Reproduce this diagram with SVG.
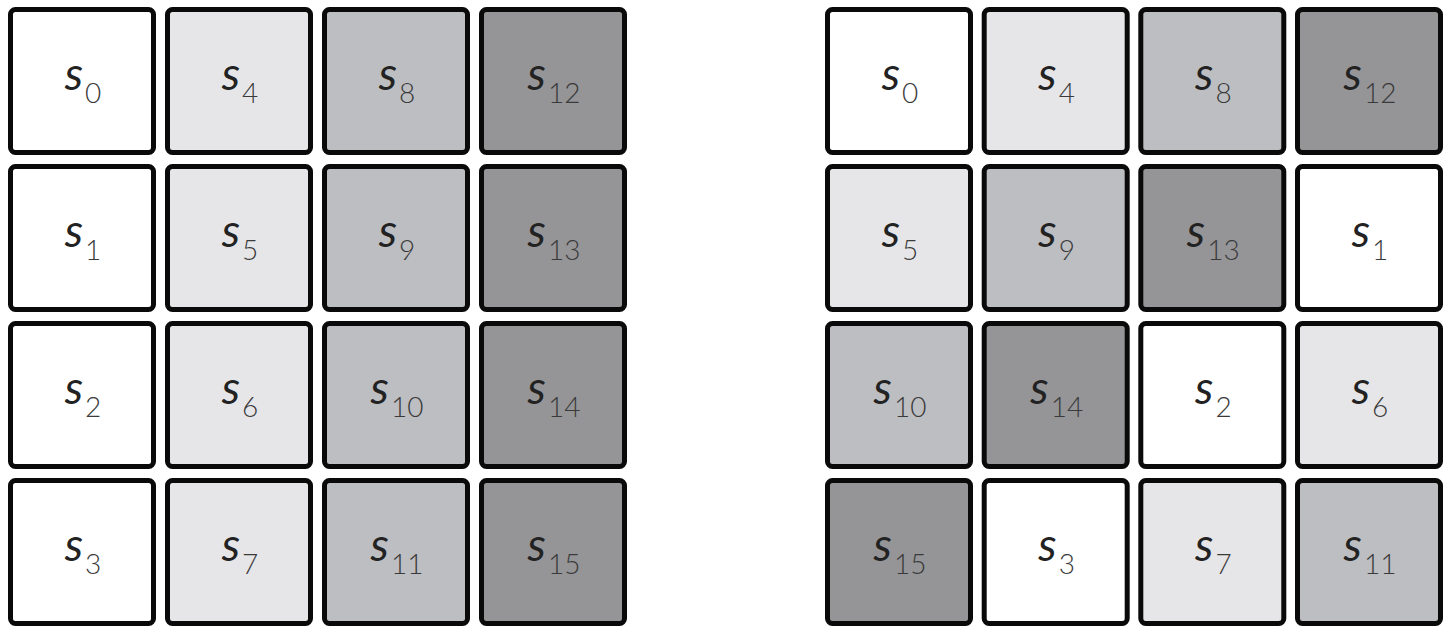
<svg xmlns="http://www.w3.org/2000/svg" width="1448" height="636" viewBox="0 0 1448 636">
<style>
.c{stroke:#0a0a0a;stroke-width:5}
.w{fill:#ffffff}.l{fill:#e6e6e8}.m{fill:#bdbec1}.d{fill:#959598}
text{font-family:Lato,"DejaVu Sans",sans-serif;text-anchor:middle}
.s{font-size:46px;fill:#222;font-weight:400;font-style:italic}
.n{font-size:28px;fill:#3a3a3a;font-weight:300}
</style>
<rect width="1448" height="636" fill="#fff"/>
<g id="left-grid">
<g id="L0"><rect class="c w" x="10.5" y="9.5" width="143" height="143" rx="5"/><text x="83" y="90"><tspan class="s">s</tspan><tspan class="n" dx="2" dy="13">0</tspan></text></g>
<g id="L1"><rect class="c w" x="10.5" y="166.5" width="143" height="143" rx="5"/><text x="83" y="247"><tspan class="s">s</tspan><tspan class="n" dx="2" dy="13">1</tspan></text></g>
<g id="L2"><rect class="c w" x="10.5" y="323.5" width="143" height="143" rx="5"/><text x="83" y="404"><tspan class="s">s</tspan><tspan class="n" dx="2" dy="13">2</tspan></text></g>
<g id="L3"><rect class="c w" x="10.5" y="480.5" width="143" height="143" rx="5"/><text x="83" y="561"><tspan class="s">s</tspan><tspan class="n" dx="2" dy="13">3</tspan></text></g>
<g id="L4"><rect class="c l" x="167.5" y="9.5" width="143" height="143" rx="5"/><text x="240" y="90"><tspan class="s">s</tspan><tspan class="n" dx="2" dy="13">4</tspan></text></g>
<g id="L5"><rect class="c l" x="167.5" y="166.5" width="143" height="143" rx="5"/><text x="240" y="247"><tspan class="s">s</tspan><tspan class="n" dx="2" dy="13">5</tspan></text></g>
<g id="L6"><rect class="c l" x="167.5" y="323.5" width="143" height="143" rx="5"/><text x="240" y="404"><tspan class="s">s</tspan><tspan class="n" dx="2" dy="13">6</tspan></text></g>
<g id="L7"><rect class="c l" x="167.5" y="480.5" width="143" height="143" rx="5"/><text x="240" y="561"><tspan class="s">s</tspan><tspan class="n" dx="2" dy="13">7</tspan></text></g>
<g id="L8"><rect class="c m" x="324.5" y="9.5" width="143" height="143" rx="5"/><text x="397" y="90"><tspan class="s">s</tspan><tspan class="n" dx="2" dy="13">8</tspan></text></g>
<g id="L9"><rect class="c m" x="324.5" y="166.5" width="143" height="143" rx="5"/><text x="397" y="247"><tspan class="s">s</tspan><tspan class="n" dx="2" dy="13">9</tspan></text></g>
<g id="L10"><rect class="c m" x="324.5" y="323.5" width="143" height="143" rx="5"/><text x="397" y="404"><tspan class="s">s</tspan><tspan class="n" dx="2" dy="13">10</tspan></text></g>
<g id="L11"><rect class="c m" x="324.5" y="480.5" width="143" height="143" rx="5"/><text x="397" y="561"><tspan class="s">s</tspan><tspan class="n" dx="2" dy="13">11</tspan></text></g>
<g id="L12"><rect class="c d" x="481.5" y="9.5" width="143" height="143" rx="5"/><text x="554" y="90"><tspan class="s">s</tspan><tspan class="n" dx="2" dy="13">12</tspan></text></g>
<g id="L13"><rect class="c d" x="481.5" y="166.5" width="143" height="143" rx="5"/><text x="554" y="247"><tspan class="s">s</tspan><tspan class="n" dx="2" dy="13">13</tspan></text></g>
<g id="L14"><rect class="c d" x="481.5" y="323.5" width="143" height="143" rx="5"/><text x="554" y="404"><tspan class="s">s</tspan><tspan class="n" dx="2" dy="13">14</tspan></text></g>
<g id="L15"><rect class="c d" x="481.5" y="480.5" width="143" height="143" rx="5"/><text x="554" y="561"><tspan class="s">s</tspan><tspan class="n" dx="2" dy="13">15</tspan></text></g>
</g>
<g id="right-grid">
<g id="R0"><rect class="c w" x="827.5" y="9.5" width="143" height="143" rx="5"/><text x="900" y="90"><tspan class="s">s</tspan><tspan class="n" dx="2" dy="13">0</tspan></text></g>
<g id="R4"><rect class="c l" x="984.2" y="9.5" width="143" height="143" rx="5"/><text x="1056.7" y="90"><tspan class="s">s</tspan><tspan class="n" dx="2" dy="13">4</tspan></text></g>
<g id="R8"><rect class="c m" x="1140.8" y="9.5" width="143" height="143" rx="5"/><text x="1213.3" y="90"><tspan class="s">s</tspan><tspan class="n" dx="2" dy="13">8</tspan></text></g>
<g id="R12"><rect class="c d" x="1297.5" y="9.5" width="143" height="143" rx="5"/><text x="1370" y="90"><tspan class="s">s</tspan><tspan class="n" dx="2" dy="13">12</tspan></text></g>
<g id="R5"><rect class="c l" x="827.5" y="166.5" width="143" height="143" rx="5"/><text x="900" y="247"><tspan class="s">s</tspan><tspan class="n" dx="2" dy="13">5</tspan></text></g>
<g id="R9"><rect class="c m" x="984.2" y="166.5" width="143" height="143" rx="5"/><text x="1056.7" y="247"><tspan class="s">s</tspan><tspan class="n" dx="2" dy="13">9</tspan></text></g>
<g id="R13"><rect class="c d" x="1140.8" y="166.5" width="143" height="143" rx="5"/><text x="1213.3" y="247"><tspan class="s">s</tspan><tspan class="n" dx="2" dy="13">13</tspan></text></g>
<g id="R1"><rect class="c w" x="1297.5" y="166.5" width="143" height="143" rx="5"/><text x="1370" y="247"><tspan class="s">s</tspan><tspan class="n" dx="2" dy="13">1</tspan></text></g>
<g id="R10"><rect class="c m" x="827.5" y="323.5" width="143" height="143" rx="5"/><text x="900" y="404"><tspan class="s">s</tspan><tspan class="n" dx="2" dy="13">10</tspan></text></g>
<g id="R14"><rect class="c d" x="984.2" y="323.5" width="143" height="143" rx="5"/><text x="1056.7" y="404"><tspan class="s">s</tspan><tspan class="n" dx="2" dy="13">14</tspan></text></g>
<g id="R2"><rect class="c w" x="1140.8" y="323.5" width="143" height="143" rx="5"/><text x="1213.3" y="404"><tspan class="s">s</tspan><tspan class="n" dx="2" dy="13">2</tspan></text></g>
<g id="R6"><rect class="c l" x="1297.5" y="323.5" width="143" height="143" rx="5"/><text x="1370" y="404"><tspan class="s">s</tspan><tspan class="n" dx="2" dy="13">6</tspan></text></g>
<g id="R15"><rect class="c d" x="827.5" y="480.5" width="143" height="143" rx="5"/><text x="900" y="561"><tspan class="s">s</tspan><tspan class="n" dx="2" dy="13">15</tspan></text></g>
<g id="R3"><rect class="c w" x="984.2" y="480.5" width="143" height="143" rx="5"/><text x="1056.7" y="561"><tspan class="s">s</tspan><tspan class="n" dx="2" dy="13">3</tspan></text></g>
<g id="R7"><rect class="c l" x="1140.8" y="480.5" width="143" height="143" rx="5"/><text x="1213.3" y="561"><tspan class="s">s</tspan><tspan class="n" dx="2" dy="13">7</tspan></text></g>
<g id="R11"><rect class="c m" x="1297.5" y="480.5" width="143" height="143" rx="5"/><text x="1370" y="561"><tspan class="s">s</tspan><tspan class="n" dx="2" dy="13">11</tspan></text></g>
</g>
<g id="connectors"/>
</svg>
